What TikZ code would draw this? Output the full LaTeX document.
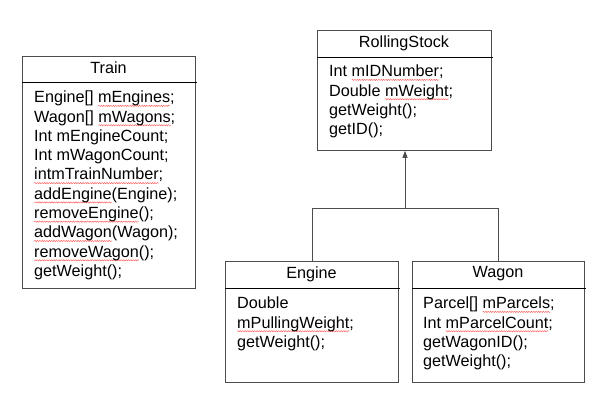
\documentclass[tikz,border=0pt]{standalone}
\usepackage{fontspec}
\setmainfont{Liberation Sans}
\usetikzlibrary{arrows.meta,decorations.pathmorphing}
\newlength\sqlen
\newcommand\sqw[1]{\settowidth\sqlen{#1}\rlap{\tikz[baseline=0pt]{\useasboundingbox (0,0) rectangle (\sqlen,0);\draw[sqline] (0pt,-3.2pt) -- (\sqlen,-3.2pt);}}#1}
\tikzset{
  sqline/.style={draw=red!65,line width=0.45pt,decorate,decoration={snake,amplitude=0.6pt,segment length=2.4pt}},
  classbox/.style={draw=black!70,line width=0.8pt,rectangle,inner sep=0,anchor=north west},
  headline/.style={draw=black,line width=0.8pt},
  title/.style={inner sep=0,font=\fontsize{16.2}{19.3}\selectfont},
  body/.style={inner sep=0,anchor=north west,align=left,font=\fontsize{16.2}{19.3}\selectfont},
  conn/.style={draw=black!70,line width=0.8pt},
}
\begin{document}
\begin{tikzpicture}[x=1pt,y=-1pt]
\useasboundingbox[fill=white] (0,0) rectangle (609,409);
% Train
\node[classbox,minimum width=173pt,minimum height=232pt] (train) at (22,56) {};
\draw[headline] (22,82) -- (197,82);
\node[title] (traint) at (108.5,68) {Train};
\node[body] (trainb) at (34,90.5) {\rule{0pt}{12pt}Engine[] \sqw{mEngines};\\
Wagon[] \sqw{mWagons};\\
Int mEngineCount;\\
Int mWagonCount;\\
\sqw{intmTrainNumber};\\
\sqw{addEngine}(Engine);\\
\sqw{removeEngine}();\\
\sqw{addWagon}(Wagon);\\
\sqw{removeWagon}();\\
getWeight();};
% RollingStock
\node[classbox,minimum width=174pt,minimum height=120pt] (rs) at (317,30) {};
\draw[headline] (317,57) -- (493,57);
\node[title] (rst) at (404,43) {RollingStock};
\node[body] (rsb) at (329,64.5) {\rule{0pt}{12pt}Int \sqw{mIDNumber};\\
Double \sqw{mWeight};\\
getWeight();\\
getID();};
% Engine
\node[classbox,minimum width=173pt,minimum height=121pt] (engine) at (225,261) {};
\draw[headline] (225,288) -- (400,288);
\node[title] (enginet) at (311.5,274) {Engine};
\node[body] (engineb) at (237,296.5) {\rule{0pt}{12pt}Double\\
\sqw{mPullingWeight};\\
getWeight();};
% Wagon
\node[classbox,minimum width=172pt,minimum height=121pt] (wagon) at (412,261) {};
\draw[headline] (412,288) -- (586,288);
\node[title] (wagont) at (498,274) {Wagon};
\node[body] (wagonb) at (423,296.5) {\rule{0pt}{12pt}Parcel[] \sqw{mParcels};\\
Int \sqw{mParcelCount};\\
getWagonID();\\
getWeight();};
% Connectors
\coordinate (j) at (405,208);
\draw[conn] (engine.north) -- (engine.north |- j) -- (wagon.north |- j) -- (wagon.north);
\draw[conn,-{Triangle[length=7pt,width=5pt]}] (j) -- (rs.south -| j);
\end{tikzpicture}
\end{document}
